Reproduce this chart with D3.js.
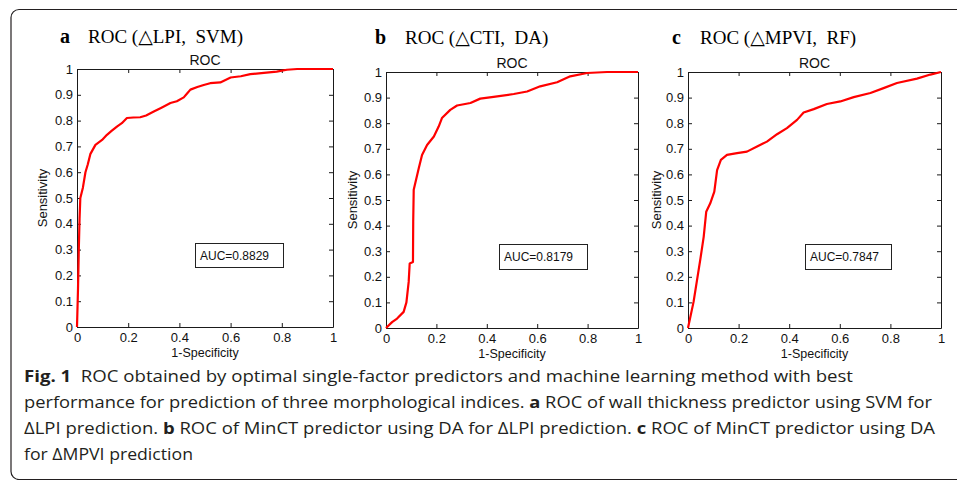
<!DOCTYPE html>
<html>
<head>
<meta charset="utf-8">
<script src="https://cdn.jsdelivr.net/npm/d3@7"></script>
<style>
  body { margin: 0; background: #ffffff; }
  svg { display: block; }
</style>
</head>
<body>
<script>

// ROC curve points (1-specificity, sensitivity)
var fprA = [0, 0.004, 0.007, 0.01, 0.013, 0.023, 0.033, 0.042, 0.052, 0.072, 0.098, 0.117, 0.135, 0.156, 0.175, 0.195, 0.22, 0.247, 0.27, 0.3, 0.33, 0.365, 0.39, 0.417, 0.43, 0.443, 0.47, 0.495, 0.52, 0.56, 0.6, 0.64, 0.677, 0.73, 0.78, 0.82, 0.86, 1];
var tprA = [0, 0.15, 0.3, 0.42, 0.5, 0.54, 0.6, 0.63, 0.67, 0.706, 0.725, 0.745, 0.76, 0.777, 0.79, 0.81, 0.812, 0.813, 0.82, 0.835, 0.85, 0.868, 0.875, 0.89, 0.905, 0.92, 0.93, 0.938, 0.945, 0.948, 0.967, 0.972, 0.98, 0.985, 0.99, 0.997, 1, 1];

var fprB = [0, 0.024, 0.044, 0.07, 0.081, 0.09, 0.094, 0.107, 0.108, 0.11, 0.13, 0.143, 0.163, 0.19, 0.209, 0.222, 0.255, 0.282, 0.335, 0.374, 0.427, 0.507, 0.56, 0.612, 0.679, 0.731, 0.798, 0.877, 1];
var tprB = [0, 0.023, 0.037, 0.063, 0.1, 0.18, 0.252, 0.258, 0.415, 0.54, 0.624, 0.676, 0.715, 0.748, 0.787, 0.82, 0.852, 0.869, 0.879, 0.896, 0.903, 0.914, 0.924, 0.944, 0.96, 0.983, 0.996, 1, 1];

var fprC = [0, 0.022, 0.049, 0.062, 0.072, 0.088, 0.104, 0.115, 0.13, 0.154, 0.194, 0.233, 0.273, 0.312, 0.352, 0.391, 0.431, 0.457, 0.497, 0.549, 0.602, 0.655, 0.721, 0.773, 0.826, 0.905, 0.958, 1];
var tprC = [0, 0.102, 0.27, 0.356, 0.454, 0.487, 0.533, 0.617, 0.657, 0.676, 0.683, 0.689, 0.709, 0.728, 0.757, 0.781, 0.813, 0.842, 0.855, 0.875, 0.885, 0.902, 0.918, 0.937, 0.957, 0.974, 0.99, 1];

// tick values and labels
var xTicks = [0, 0.2, 0.4, 0.6, 0.8, 1];
var xTickLabels = ["0", "0.2", "0.4", "0.6", "0.8", "1"];
var yTicks = [0, 0.1, 0.2, 0.3, 0.4, 0.5, 0.6, 0.7, 0.8, 0.9, 1];
var yTickLabels = ["0", "0.1", "0.2", "0.3", "0.4", "0.5", "0.6", "0.7", "0.8", "0.9", "1"];

// panel texts
var panelLetters = ["a", "b", "c"];
var panelHeadings = ["ROC (\u25B3LPI,\u00A0\u00A0SVM)", "ROC (\u25B3CTI,\u00A0\u00A0DA)", "ROC (\u25B3MPVI,\u00A0\u00A0RF)"];
var aucLabels = ["AUC=0.8829", "AUC=0.8179", "AUC=0.7847"];

// caption lines, bold parts marked separately
var captionLines = [
  [["Fig. 1", true], ["\u00A0\u00A0ROC obtained by optimal single-factor predictors and machine learning method with best", false]],
  [["performance for prediction of three morphological indices. ", false], ["a", true], [" ROC of wall thickness predictor using SVM for", false]],
  [["\u0394LPI prediction. ", false], ["b", true], [" ROC of MinCT predictor using DA for \u0394LPI prediction. ", false], ["c", true], [" ROC of MinCT predictor using DA", false]],
  [["for \u0394MPVI prediction", false]]
];
var captionWidths = [829, 908, 911, 169];

window.onload = function() {

  var width = 957;
  var height = 480;

  var svg = d3.select("body")
              .append("svg")
              .attr("width", width)
              .attr("height", height);

  // frame round the figure, rounded at the left corners
  svg.append("path")
     .attr("d", "M957,9.5 H19 A8,8 0 0 0 11,17.5 V471.5 A8,8 0 0 0 19,479.5 H957")
     .attr("fill", "none")
     .attr("stroke", "#231f20")
     .attr("stroke-width", 1.2);

  // layout of the three panels
  var panels = [
    {left: 77, right: 333, top: 69, bottom: 327, titleY: 65, headY: 43, letterX: 60, headX: 88, sensX: 47,
     box: {x: 195, y: 243, w: 88, h: 24}, fpr: fprA, tpr: tprA},
    {left: 386, right: 638, top: 72, bottom: 328, titleY: 68, headY: 44, letterX: 375, headX: 405, sensX: 357,
     box: {x: 499, y: 244, w: 88, h: 25}, fpr: fprB, tpr: tprB},
    {left: 688, right: 941, top: 72, bottom: 328, titleY: 68, headY: 44, letterX: 672, headX: 700, sensX: 661,
     box: {x: 805, y: 244, w: 86, h: 25}, fpr: fprC, tpr: tprC}
  ];

  panels.forEach(function(p, i) {
    drawPanel(svg, p, i);
  });

  drawCaption(svg);
};

function drawPanel(svg, p, i) {

  var xScale = d3.scaleLinear()
                 .domain([0, 1])
                 .range([p.left, p.right]);

  var yScale = d3.scaleLinear()
                 .domain([0, 1])
                 .range([p.bottom, p.top]);

  // bottom axis with labels, ticks pointing inside
  svg.append("g")
     .attr("class", "axis")
     .attr("transform", "translate(0," + p.bottom + ")")
     .call(d3.axisBottom(xScale).tickValues(xTicks).tickSize(-4).tickSizeOuter(0).tickPadding(6)
             .tickFormat(function(d, j) { return xTickLabels[j]; }));

  // top axis, ticks only
  svg.append("g")
     .attr("class", "axis")
     .attr("transform", "translate(0," + p.top + ")")
     .call(d3.axisTop(xScale).tickValues(xTicks).tickSize(-4).tickSizeOuter(0).tickFormat(""));

  // left axis with labels
  svg.append("g")
     .attr("class", "axis")
     .attr("transform", "translate(" + p.left + ",0)")
     .call(d3.axisLeft(yScale).tickValues(yTicks).tickSize(-4).tickSizeOuter(0).tickPadding(4)
             .tickFormat(function(d, j) { return yTickLabels[j]; }));

  // right axis, ticks only
  svg.append("g")
     .attr("class", "axis")
     .attr("transform", "translate(" + p.right + ",0)")
     .call(d3.axisRight(yScale).tickValues(yTicks).tickSize(-4).tickSizeOuter(0).tickFormat(""));

  svg.selectAll(".axis")
     .attr("font-family", "'Liberation Sans', Arial, sans-serif")
     .attr("font-size", 13);
  svg.selectAll(".axis path, .axis line")
     .attr("stroke", "#1a1a1a")
     .attr("stroke-width", 1);
  svg.selectAll(".axis text")
     .attr("fill", "#111");

  // roc curve
  var points = p.fpr.map(function(d, j) { return [d, p.tpr[j]]; });
  var line = d3.line()
               .x(function(d) { return xScale(d[0]); })
               .y(function(d) { return yScale(d[1]); });

  svg.append("path")
     .datum(points)
     .attr("d", line)
     .attr("fill", "none")
     .attr("stroke", "#ff0000")
     .attr("stroke-width", 2.2)
     .attr("stroke-linejoin", "round");

  // auc box
  svg.append("rect")
     .attr("x", p.box.x + 0.5)
     .attr("y", p.box.y + 0.5)
     .attr("width", p.box.w)
     .attr("height", p.box.h)
     .attr("fill", "#ffffff")
     .attr("stroke", "#222")
     .attr("stroke-width", 1);

  svg.append("text")
     .attr("x", p.box.x + 5)
     .attr("y", p.box.y + 17)
     .attr("font-family", "'Liberation Sans', Arial, sans-serif")
     .attr("font-size", 12)
     .attr("fill", "#111")
     .text(aucLabels[i]);

  // plot title
  svg.append("text")
     .attr("x", (p.left + p.right) / 2)
     .attr("y", p.titleY)
     .attr("text-anchor", "middle")
     .attr("font-family", "'Liberation Sans', Arial, sans-serif")
     .attr("font-size", 14)
     .attr("fill", "#111")
     .text("ROC");

  // x-axis title
  svg.append("text")
     .attr("x", (p.left + p.right) / 2)
     .attr("y", p.bottom + 30)
     .attr("text-anchor", "middle")
     .attr("font-family", "'Liberation Sans', Arial, sans-serif")
     .attr("font-size", 12.5)
     .attr("fill", "#111")
     .text("1-Specificity");

  // y-axis title
  svg.append("text")
     .attr("transform", "translate(" + p.sensX + "," + ((p.top + p.bottom) / 2) + ") rotate(-90)")
     .attr("text-anchor", "middle")
     .attr("font-family", "'Liberation Sans', Arial, sans-serif")
     .attr("font-size", 13)
     .attr("fill", "#111")
     .text("Sensitivity");

  // panel letter and heading
  svg.append("text")
     .attr("x", p.letterX)
     .attr("y", p.headY)
     .attr("font-family", "'Liberation Serif', 'Times New Roman', serif")
     .attr("font-weight", "bold")
     .attr("font-size", 20)
     .attr("fill", "#000")
     .text(panelLetters[i]);

  svg.append("text")
     .attr("x", p.headX)
     .attr("y", p.headY)
     .attr("font-family", "'Liberation Serif', 'Times New Roman', 'DejaVu Serif', serif")
     .attr("font-size", 19)
     .attr("fill", "#000")
     .text(panelHeadings[i]);
}

function drawCaption(svg) {

  var baseY = 382;
  var lineGap = 26;

  captionLines.forEach(function(parts, i) {
    var t = svg.append("text")
               .attr("x", 24)
               .attr("y", baseY + i * lineGap)
               .attr("font-family", "'Open Sans', 'Noto Sans', sans-serif")
               .attr("font-size", 16)
               .attr("fill", "#231f20")
               .attr("textLength", captionWidths[i])
               .attr("lengthAdjust", "spacingAndGlyphs");

    parts.forEach(function(part) {
      t.append("tspan")
       .attr("font-weight", part[1] ? "bold" : "normal")
       .text(part[0]);
    });
  });
}
</script>
</body>
</html>
